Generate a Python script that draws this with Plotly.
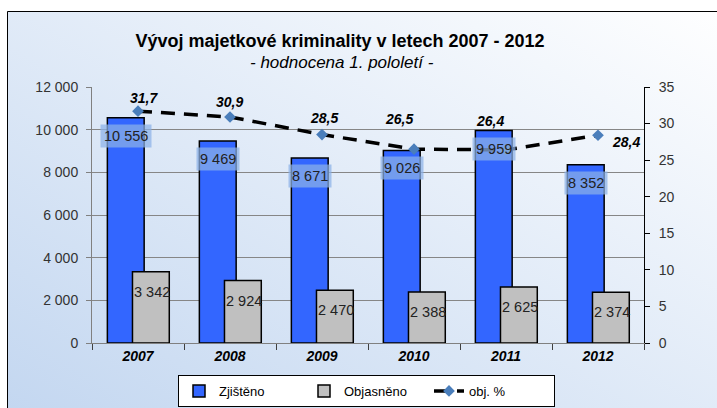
import base64
import plotly.graph_objects as go

# ---- data ----
years = ["2007", "2008", "2009", "2010", "2011", "2012"]
zjisteno = [10556, 9469, 8671, 9026, 9959, 8352]
objasneno = [3342, 2924, 2470, 2388, 2625, 2374]
obj_pct = [31.7, 30.9, 28.5, 26.5, 26.4, 28.4]

# ---- layout helpers (pixel -> paper) ----
W, H = 717, 408
ML, MR, MT, MB = 92, 73, 87, 65
PW, PH = W - ML - MR, H - MT - MB


def px(xp):
    return (xp - ML) / PW


def py(yp):
    return (H - MB - yp) / PH


FONT = "Liberation Sans, Arial, sans-serif"


def fmt_int(v):
    return f"{v:,}".replace(",", " ")


def fmt_pct(v):
    return f"{v:.1f}".replace(".", ",")


fig = go.Figure()

fig.add_trace(go.Bar(
    name="Zjištěno", x=years, y=zjisteno,
    offset=-0.333, width=0.40,
    marker=dict(color="#3366ff", line=dict(color="black", width=1.5)),
))
fig.add_trace(go.Bar(
    name="Objasněno", x=years, y=objasneno,
    offset=-0.06, width=0.40,
    marker=dict(color="#c0c0c0", line=dict(color="black", width=1.5)),
))
fig.add_trace(go.Scatter(
    name="obj. %", x=years, y=obj_pct, yaxis="y2",
    mode="lines+markers",
    line=dict(color="black", width=3.5, dash="14px,9px"),
    marker=dict(symbol="diamond", size=9, color="#4a7ebb", line=dict(width=0)),
))

annotations = []
for i, v in enumerate(zjisteno):
    annotations.append(dict(
        x=i, y=v, xref="x", yref="y", text=fmt_int(v), showarrow=False,
        xshift=-12, yshift=-18, yanchor="middle",
        font=dict(family=FONT, size=14.5, color="#222"),
        bgcolor="rgba(140,178,232,0.72)", borderpad=3,
    ))
for i, v in enumerate(objasneno):
    annotations.append(dict(
        x=i, y=v, xref="x", yref="y", text=fmt_int(v), showarrow=False,
        xshift=14, yshift=-20, yanchor="middle",
        font=dict(family=FONT, size=14.5, color="#222"),
    ))
pct_shift = [(6, 13), (-1, 15), (2, 17), (-15, 30), (-16, 29), (28, -7)]
for i, (v, (dx, dy)) in enumerate(zip(obj_pct, pct_shift)):
    annotations.append(dict(
        x=i, y=v, xref="x", yref="y2", text=fmt_pct(v), showarrow=False,
        xshift=dx, yshift=dy, yanchor="middle",
        font=dict(family=FONT, size=14, color="black", weight="bold", style="italic"),
    ))
annotations.append(dict(
    x=px(342), y=py(62), xref="paper", yref="paper", showarrow=False,
    text="- hodnocena 1. pololetí -", xanchor="center", yanchor="middle",
    font=dict(family=FONT, size=17, color="black", style="italic"),
))

svg = (
    '<svg xmlns="http://www.w3.org/2000/svg" width="710" height="397" preserveAspectRatio="none">'
    '<defs><linearGradient id="g" x1="0" y1="1" x2="1" y2="0">'
    '<stop offset="0" stop-color="#c2d6f0"/><stop offset="1" stop-color="#ffffff"/>'
    '</linearGradient></defs><rect width="100%" height="100%" fill="url(#g)"/></svg>'
)
bg_src = "data:image/svg+xml;base64," + base64.b64encode(svg.encode()).decode()

fig.update_layout(
    width=W, height=H,
    margin=dict(l=ML, r=MR, t=MT, b=MB, pad=0, autoexpand=False),
    paper_bgcolor="white", plot_bgcolor="rgba(0,0,0,0)",
    barmode="overlay",
    separators=", ",
    title=dict(
        text="<b>Vývoj majetkové kriminality v letech 2007 - 2012</b>",
        x=340 / W, xanchor="center", xref="container",
        y=1 - 41 / H, yanchor="middle", yref="container",
        font=dict(family=FONT, size=18, color="black"),
    ),
    xaxis=dict(
        type="category", categoryorder="array", categoryarray=years,
        showgrid=False, showline=True, linecolor="#808080", linewidth=1,
        ticks="outside", tickson="boundaries", ticklen=6, tickcolor="#404040",
        tickfont=dict(family=FONT, size=14, color="black", weight="bold", style="italic"),
        range=[-0.5, 5.5], automargin=False,
    ),
    yaxis=dict(
        range=[0, 12000], dtick=2000, tickformat=",d",
        showgrid=True, gridcolor="#868686", gridwidth=1, zeroline=False,
        showline=True, linecolor="#808080", linewidth=1,
        ticks="outside", ticklen=5, tickcolor="#808080", ticklabelstandoff=5,
        tickfont=dict(family=FONT, size=14, color="#333"), automargin=False,
    ),
    yaxis2=dict(
        overlaying="y", side="right", range=[0, 35], dtick=5,
        showgrid=False, zeroline=False,
        showline=True, linecolor="black", linewidth=1,
        ticks="outside", ticklen=5, tickcolor="black", ticklabelstandoff=6,
        tickfont=dict(family=FONT, size=14, color="#333"), automargin=False,
    ),
    legend=dict(
        orientation="h", xref="container", yref="container",
        x=178 / W, y=1 - 375 / H, xanchor="left", yanchor="top",
        bgcolor="white", bordercolor="black", borderwidth=1,
        font=dict(family=FONT, size=13, color="black"),
        entrywidth=80,
    ),
    annotations=annotations,
    images=[dict(
        source=bg_src, xref="paper", yref="paper",
        x=px(7), y=py(11), sizex=(W + 20 - 7) / PW, sizey=(H + 20 - 11) / PH,
        xanchor="left", yanchor="top", sizing="stretch", layer="below",
    )],
    shapes=[dict(
        type="rect", xref="paper", yref="paper",
        x0=px(7.5), y0=py(11.5), x1=px(W + 20), y1=py(H + 20),
        line=dict(color="black", width=1), fillcolor="rgba(0,0,0,0)",
    )],
    showlegend=True,
)

fig.write_html(
    "out.html",
    config={"displayModeBar": False},
    post_script="document.body.style.margin='0';document.body.style.padding='0';",
)
